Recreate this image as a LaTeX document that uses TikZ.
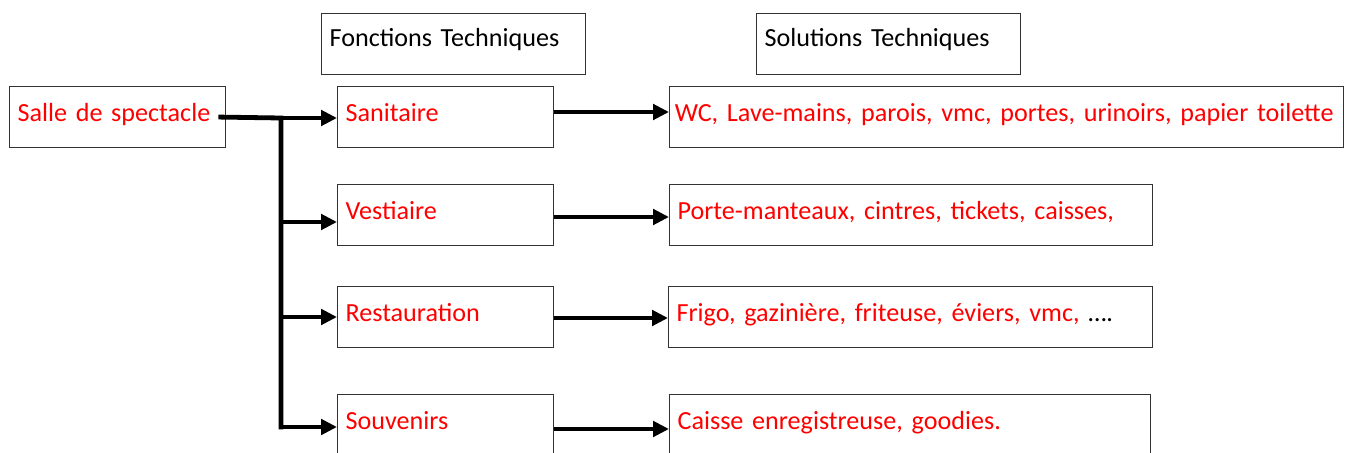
\documentclass[tikz,border=0pt]{standalone}
\usepackage{fontspec}
\setmainfont{Carlito}
\usepackage{xcolor}
\usetikzlibrary{arrows.meta}
\tikzstyle{fbox}=[draw=black!80, line width=.9pt, anchor=north west, align=left,
  inner xsep=6pt, inner ysep=0pt, text height=26.5pt, text depth=19.25pt,
  font=\fontsize{19.6}{24}\selectfont]
\tikzstyle{fred}=[fbox, text=red]
\tikzstyle{link}=[line width=3.6pt, line cap=rect]
\tikzstyle{flow}=[line width=3.6pt, -{Triangle[length=12pt,width=11.5pt]}]

\begin{document}
\begin{tikzpicture}[x=.75pt,y=-.75pt]
    \useasboundingbox (0,0) rectangle (1346,453);

    % Headings
    \draw (321,13) node[fbox,text width=186pt,text height=25pt,text depth=20.75pt] (ft) {Fonctions Techniques};
    \draw (756,13) node[fbox,text width=186pt,text height=25pt,text depth=20.75pt] (st) {Solutions Techniques};

    % Salle
    \draw (9,86) node[fred,text width=150pt] (salle) {Salle de spectacle};

    % Fonctions
    \draw (337,86) node[fred,text width=150pt] (san) {Sanitaire};
    \draw (337,184) node[fred,text width=150pt] (ves) {Vestiaire};
    \draw (337,286) node[fred,text width=150pt] (res) {Restauration};
    \draw (337,394) node[fred,text width=150pt] (sou) {Souvenirs};

    % Solutions
    \draw (669,86) node[fred,inner xsep=4pt,text width=497.5pt] (wc) {\mbox{WC, Lave-mains, parois, vmc, portes, urinoirs, papier toilette}};
    \draw (669,184) node[fred,text width=350.25pt] (por) {Porte-manteaux, cintres, tickets, caisses,};
    \draw (668,286) node[fred,text width=351pt] (fri) {Frigo, gazinière, friteuse, éviers, vmc, \textcolor{black}{….}};
    \draw (669,394) node[fred,text width=348.75pt] (cai) {Caisse enregistreuse, goodies.};

    % Arborescence
    \coordinate (fork) at (281,118);
    \draw[link] ([xshift=-4pt]salle.east) -- (fork) -- (fork |- 0,427) coordinate (foot);
    \draw[flow] (foot) -- (sou.west |- foot);
    \foreach \n/\y in {san/118, ves/222, res/317}
      \draw[flow] (fork |- 0,\y) -- (\n.west |- 0,\y);

    % Fonctions -> Solutions
    \foreach \a/\b/\y in {san/wc/112, ves/por/217, res/fri/318, sou/cai/429}
      \draw[flow] (\a.east |- 0,\y) -- (\b.west |- 0,\y);

\end{tikzpicture}
\end{document}
